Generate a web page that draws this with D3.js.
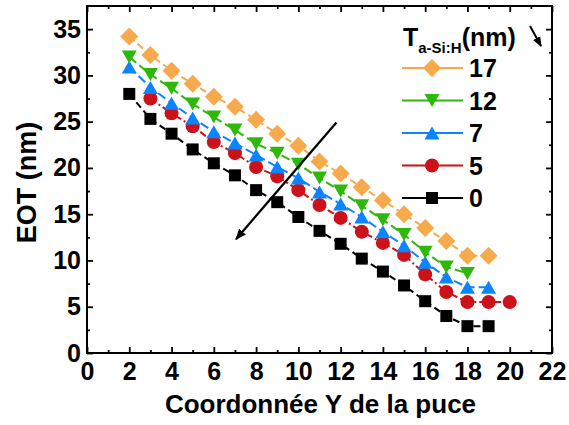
<!DOCTYPE html>
<html><head><meta charset="utf-8">
<script src="https://cdn.jsdelivr.net/npm/d3@7"></script>
<style>
html,body{margin:0;padding:0;background:#fff;}
svg text{font-family:"Liberation Sans",Arial,sans-serif;font-weight:bold;fill:#000;}
</style></head>
<body><svg id="c" width="569" height="425"></svg>
<script>
// ---- data ----
const x0  = [2,3,4,5,6,7,8,9,10,11,12,13,14,15,16,17,18,19];
const y0  = [28.0,25.3,23.7,22.0,20.5,19.2,17.6,16.3,14.7,13.2,11.8,10.2,8.8,7.3,5.6,4.0,2.9,2.9];
const x5  = [3,4,5,6,7,8,9,10,11,12,13,14,15,16,17,18,19,20];
const y5  = [27.5,25.9,24.5,22.8,21.6,20.1,19.1,17.6,16.0,14.6,13.1,11.9,10.6,8.5,6.6,5.5,5.5,5.5];
const x7  = [2,3,4,5,6,7,8,9,10,11,12,13,14,15,16,17,18,19];
const y7  = [30.9,28.7,27.0,25.4,23.9,22.7,21.4,20.1,18.9,17.4,16.1,14.7,13.1,11.6,9.8,8.2,7.1,7.1];
const x12 = [2,3,4,5,6,7,8,9,10,11,12,13,14,15,16,17,18];
const y12 = [32.0,30.1,28.6,26.9,25.5,24.1,22.6,21.6,20.4,18.9,17.5,15.9,14.4,12.8,10.9,9.3,8.6];
const x17 = [2,3,4,5,6,7,8,9,10,11,12,13,14,15,16,17,18,19];
const y17 = [34.2,32.2,30.5,29.1,27.7,26.6,25.2,23.7,22.4,20.7,19.4,17.9,16.5,15.0,13.5,12.1,10.5,10.5];
const legendLabels = ["17","12","7","5","0"];
const xTicks = [0,2,4,6,8,10,12,14,16,18,20,22];
const xMinor = [1,3,5,7,9,11,13,15,17,19,21];
const yTicks = [0,5,10,15,20,25,30,35];
const yMinor = [2.5,7.5,12.5,17.5,22.5,27.5,32.5];
const arrowMain = [[11.8,24.9],[7.05,12.3]];

// ---- layout ----
const L=87,R=552,T=6,B=353;
const x=d3.scaleLinear().domain([0,22]).range([L,R]);
const y=d3.scaleLinear().domain([0,37.5]).range([B,T]);
const svg=d3.select("#c");
const FS=25;

const series=[
 {name:"0", xs:x0, ys:y0, color:"#000000", shape:"square", dash:"7,4"},
 {name:"5", xs:x5, ys:y5, color:"#cc1118", shape:"circle", dash:"7,3,2,3"},
 {name:"7", xs:x7, ys:y7, color:"#0a84ff", shape:"tup", dash:"9,4"},
 {name:"12",xs:x12,ys:y12,color:"#2eb80a", shape:"tdown", dash:"9,4"},
 {name:"17",xs:x17,ys:y17,color:"#f7aa4c", shape:"diamond", dash:"7,4"}
];

function shapePath(s){
  switch(s){
    case "square": return "M-6,-6H6V6H-6Z";
    case "circle": return "M7,0A7,7 0 1 1 -7,0A7,7 0 1 1 7,0Z";
    case "tup": return "M0,-6.5L7.5,6.5L-7.5,6.5Z";
    case "tdown": return "M0,6.5L7.5,-6.5L-7.5,-6.5Z";
    case "diamond": return "M0,-9L9,0L0,9L-9,0Z";
  }
}

const line=d3.line().x(d=>x(d[0])).y(d=>y(d[1]));
const g=svg.append("g");
series.forEach(s=>{
  const pts=s.xs.map((v,i)=>[v,s.ys[i]]);
  g.append("path").attr("d",line(pts)).attr("fill","none")
    .attr("stroke",s.color).attr("stroke-width",2).attr("stroke-dasharray",s.dash);
  g.selectAll(null).data(pts).enter().append("path")
    .attr("d",shapePath(s.shape))
    .attr("transform",d=>`translate(${x(d[0])},${y(d[1])})`)
    .attr("fill",s.color);
});

// main arrow
svg.append("defs").append("marker").attr("id","ah").attr("viewBox","0 0 10 10")
  .attr("refX",9).attr("refY",5).attr("markerWidth",5).attr("markerHeight",5)
  .attr("orient","auto").attr("markerUnits","strokeWidth")
  .append("path").attr("d","M0,1L10,5L0,9Z").attr("fill","#000");
svg.append("path").attr("d",line(arrowMain)).attr("stroke","#000")
  .attr("stroke-width",2.2).attr("fill","none").attr("marker-end","url(#ah)");

// axes
function ax(gen,tr){ return svg.append("g").attr("transform",tr).call(gen); }
ax(d3.axisBottom(x).tickValues(xTicks).tickSizeInner(-6).tickSizeOuter(0).tickPadding(9).tickFormat(d3.format("d")),`translate(0,${B})`);
ax(d3.axisBottom(x).tickValues(xMinor).tickSizeInner(-3).tickSizeOuter(0).tickFormat(""),`translate(0,${B})`);
ax(d3.axisTop(x).tickValues(xTicks).tickSizeInner(-6).tickSizeOuter(0).tickFormat(""),`translate(0,${T})`);
ax(d3.axisTop(x).tickValues(xMinor).tickSizeInner(-3).tickSizeOuter(0).tickFormat(""),`translate(0,${T})`);
ax(d3.axisLeft(y).tickValues(yTicks).tickSizeInner(-6).tickSizeOuter(0).tickPadding(6).tickFormat(d3.format("d")),`translate(${L},0)`);
ax(d3.axisLeft(y).tickValues(yMinor).tickSizeInner(-3).tickSizeOuter(0).tickFormat(""),`translate(${L},0)`);
ax(d3.axisRight(y).tickValues(yTicks).tickSizeInner(-6).tickSizeOuter(0).tickFormat(""),`translate(${R},0)`);
ax(d3.axisRight(y).tickValues(yMinor).tickSizeInner(-3).tickSizeOuter(0).tickFormat(""),`translate(${R},0)`);
svg.selectAll(".domain").remove();
svg.selectAll(".tick line").attr("stroke","#000").attr("stroke-width",1.8);
svg.selectAll(".tick text").style("font-size",FS+"px").style("font-family",'"Liberation Sans",Arial,sans-serif').style("font-weight","bold");
svg.append("rect").attr("x",L).attr("y",T).attr("width",R-L).attr("height",B-T)
  .attr("fill","none").attr("stroke","#000").attr("stroke-width",2);

// axis titles
svg.append("text").attr("x",(L+R)/2+1).attr("y",413).attr("text-anchor","middle")
  .style("font-size","26px").text("Coordonnée Y de la puce");
svg.append("text").attr("transform",`translate(36,${(T+B)/2+3}) rotate(-90)`).attr("text-anchor","middle")
  .style("font-size","27px").text("EOT (nm)");

// legend
const lg=svg.append("g");
const t=lg.append("text").attr("x",403).attr("y",46).style("font-size","25px");
t.append("tspan").text("T");
t.append("tspan").attr("dy",7).style("font-size","15px").text("a-Si:H");
t.append("tspan").attr("dy",-7).text("(nm)");
lg.append("path").attr("d","M530,26L541,46").attr("stroke","#000").attr("stroke-width",2)
  .attr("marker-end","url(#ah)");
const order=[4,3,2,1,0];
order.forEach((si,i)=>{
  const s=series[si]; const yy=68+i*32.5;
  lg.append("line").attr("x1",402).attr("x2",463).attr("y1",yy).attr("y2",yy)
    .attr("stroke",s.color).attr("stroke-width",2);
  lg.append("path").attr("d",shapePath(s.shape)).attr("transform",`translate(432,${yy})`).attr("fill",s.color);
  lg.append("text").attr("x",469).attr("y",yy+9).style("font-size","25px").text(legendLabels[i]);
});
</script></body></html>
